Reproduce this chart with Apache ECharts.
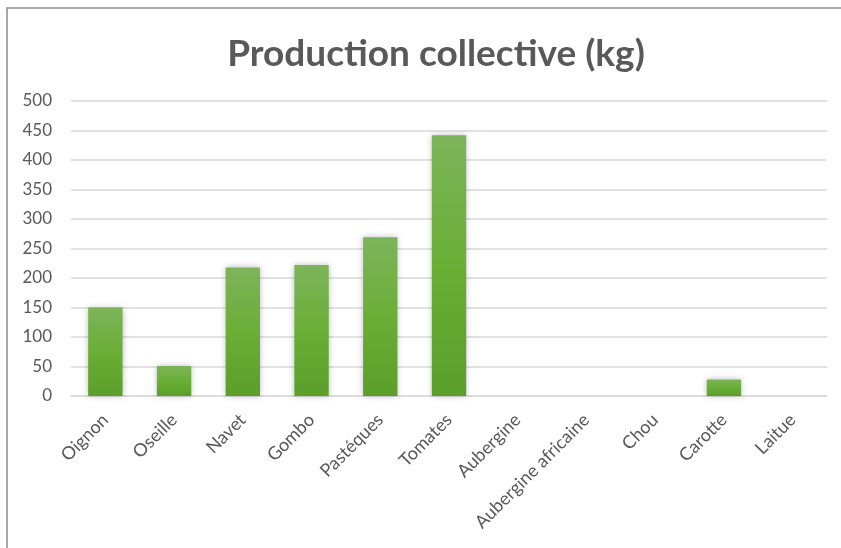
<!DOCTYPE html>
<html>
<head>
<meta charset="utf-8">
<script src="https://cdn.jsdelivr.net/npm/echarts@6/dist/echarts.min.js"></script>
<style>
  html, body { margin: 0; padding: 0; background: #fff; }
  #chart { width: 841px; height: 548px; }
</style>
</head>
<body>
<div id="chart"></div>
<script>
// données
const categories = ['Oignon', 'Oseille', 'Navet', 'Gombo', 'Pastéques', 'Tomates',
  'Aubergine', 'Aubergine africaine', 'Chou', 'Carotte', 'Laitue'];
const production = [150, 51, 218, 222, 269, 442, 0, 0, 0, 28, 0];
const yTicks = { min: 0, max: 500, interval: 50 };

const chart = echarts.init(document.getElementById('chart'));

const option = {
  animation: false,
  title: {
    text: 'Production collective (kg)',
    left: 431,
    top: 31,
    textAlign: 'center',
    textStyle: {
      fontFamily: 'Lato',
      fontWeight: 'bold',
      fontSize: 37,
      color: '#595959'
    }
  },
  graphic: [
    {
      type: 'rect',
      shape: { x: 7, y: 8, width: 900, height: 600 },
      style: { fill: 'none', stroke: '#8c8c8c', lineWidth: 1.5 },
      silent: true
    }
  ],
  grid: {
    left: 71,
    right: 14,
    top: 101,
    bottom: 152
  },
  xAxis: {
    type: 'category',
    data: categories,
    axisLine: { lineStyle: { color: '#d9d9d9', width: 1.5 } },
    axisTick: { show: false },
    axisLabel: {
      rotate: 45,
      interval: 0,
      margin: 21,
      fontFamily: 'Lato',
      fontSize: 18,
      color: '#595959'
    }
  },
  yAxis: {
    type: 'value',
    min: yTicks.min,
    max: yTicks.max,
    interval: yTicks.interval,
    axisLine: { show: false },
    axisTick: { show: false },
    axisLabel: {
      margin: 19,
      fontFamily: 'Lato',
      fontSize: 17,
      color: '#595959'
    },
    splitLine: { lineStyle: { color: '#d9d9d9', width: 1.5 } }
  },
  series: [
    {
      name: 'Production',
      type: 'bar',
      data: production,
      barWidth: '50%',
      itemStyle: {
        color: new echarts.graphic.LinearGradient(0, 0, 0, 1, [
          { offset: 0, color: '#7db45a' },
          { offset: 0.5, color: '#6aae36' },
          { offset: 1, color: '#5b9e2a' }
        ]),
        shadowColor: 'rgba(0,0,0,0.25)',
        shadowBlur: 6
      }
    }
  ]
};

chart.setOption(option);
</script>
</body>
</html>
